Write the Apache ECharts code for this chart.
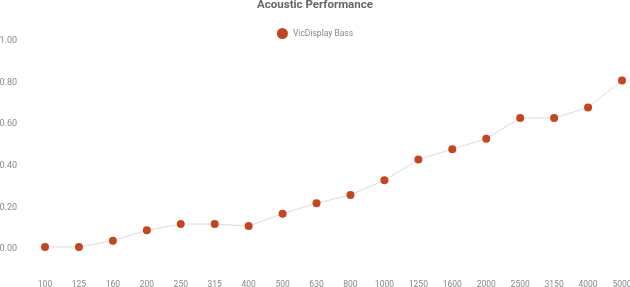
<!DOCTYPE html>
<html>
<head>
<meta charset="utf-8">
<script src="https://cdn.jsdelivr.net/npm/echarts@6/dist/echarts.min.js"></script>
<style>html,body{margin:0;padding:0;background:#fff}#c{width:630px;height:287px}</style>
</head>
<body>
<div id="c"></div>
<script>
const categories = ['100','125','160','200','250','315','400','500','630','800','1000','1250','1600','2000','2500','3150','4000','5000'];
const seriesName = 'VicDisplay Bass';
const values = [0.01,0.01,0.04,0.09,0.12,0.12,0.11,0.17,0.22,0.26,0.33,0.43,0.48,0.53,0.63,0.63,0.68,0.81];
const yTicks = [0,0.2,0.4,0.6,0.8,1.0];

const FONT = 'Roboto, sans-serif';
const chart = echarts.init(document.getElementById('c'));
chart.setOption({
  animation: false,
  textStyle: {fontFamily: FONT},
  title: {
    text: 'Acoustic Performance', left: 'center', top: -1, padding: 0,
    textStyle: {fontSize: 11.5, fontWeight: 'bold', color: '#666', fontFamily: FONT}
  },
  legend: {
    data: [seriesName], top: 23, left: 'center', icon: 'circle',
    itemWidth: 11, itemHeight: 11, itemGap: 4,
    textStyle: {fontSize: 8.5, color: '#888', fontFamily: FONT}
  },
  grid: {left: 45, right: 8, top: 41, bottom: 38, outerBoundsMode: 'none', containLabel: false},
  xAxis: {
    type: 'category', data: categories, boundaryGap: false,
    axisLine: {show: false}, axisTick: {show: false}, splitLine: {show: false},
    axisLabel: {margin: 31, fontSize: 8.5, color: '#888', interval: 0, fontFamily: FONT}
  },
  yAxis: {
    type: 'value', min: yTicks[0], max: yTicks[yTicks.length-1], interval: 0.2,
    axisLine: {show: false}, axisTick: {show: false}, splitLine: {show: false},
    axisLabel: {margin: 28, fontSize: 9, color: '#888', fontFamily: FONT, formatter: v => v.toFixed(2)}
  },
  series: [{
    name: seriesName, type: 'line', data: values,
    symbol: 'circle', symbolSize: 8,
    itemStyle: {color: '#C4461E'},
    lineStyle: {color: '#dcdcdc', width: 1}
  }]
});
</script>
</body>
</html>
